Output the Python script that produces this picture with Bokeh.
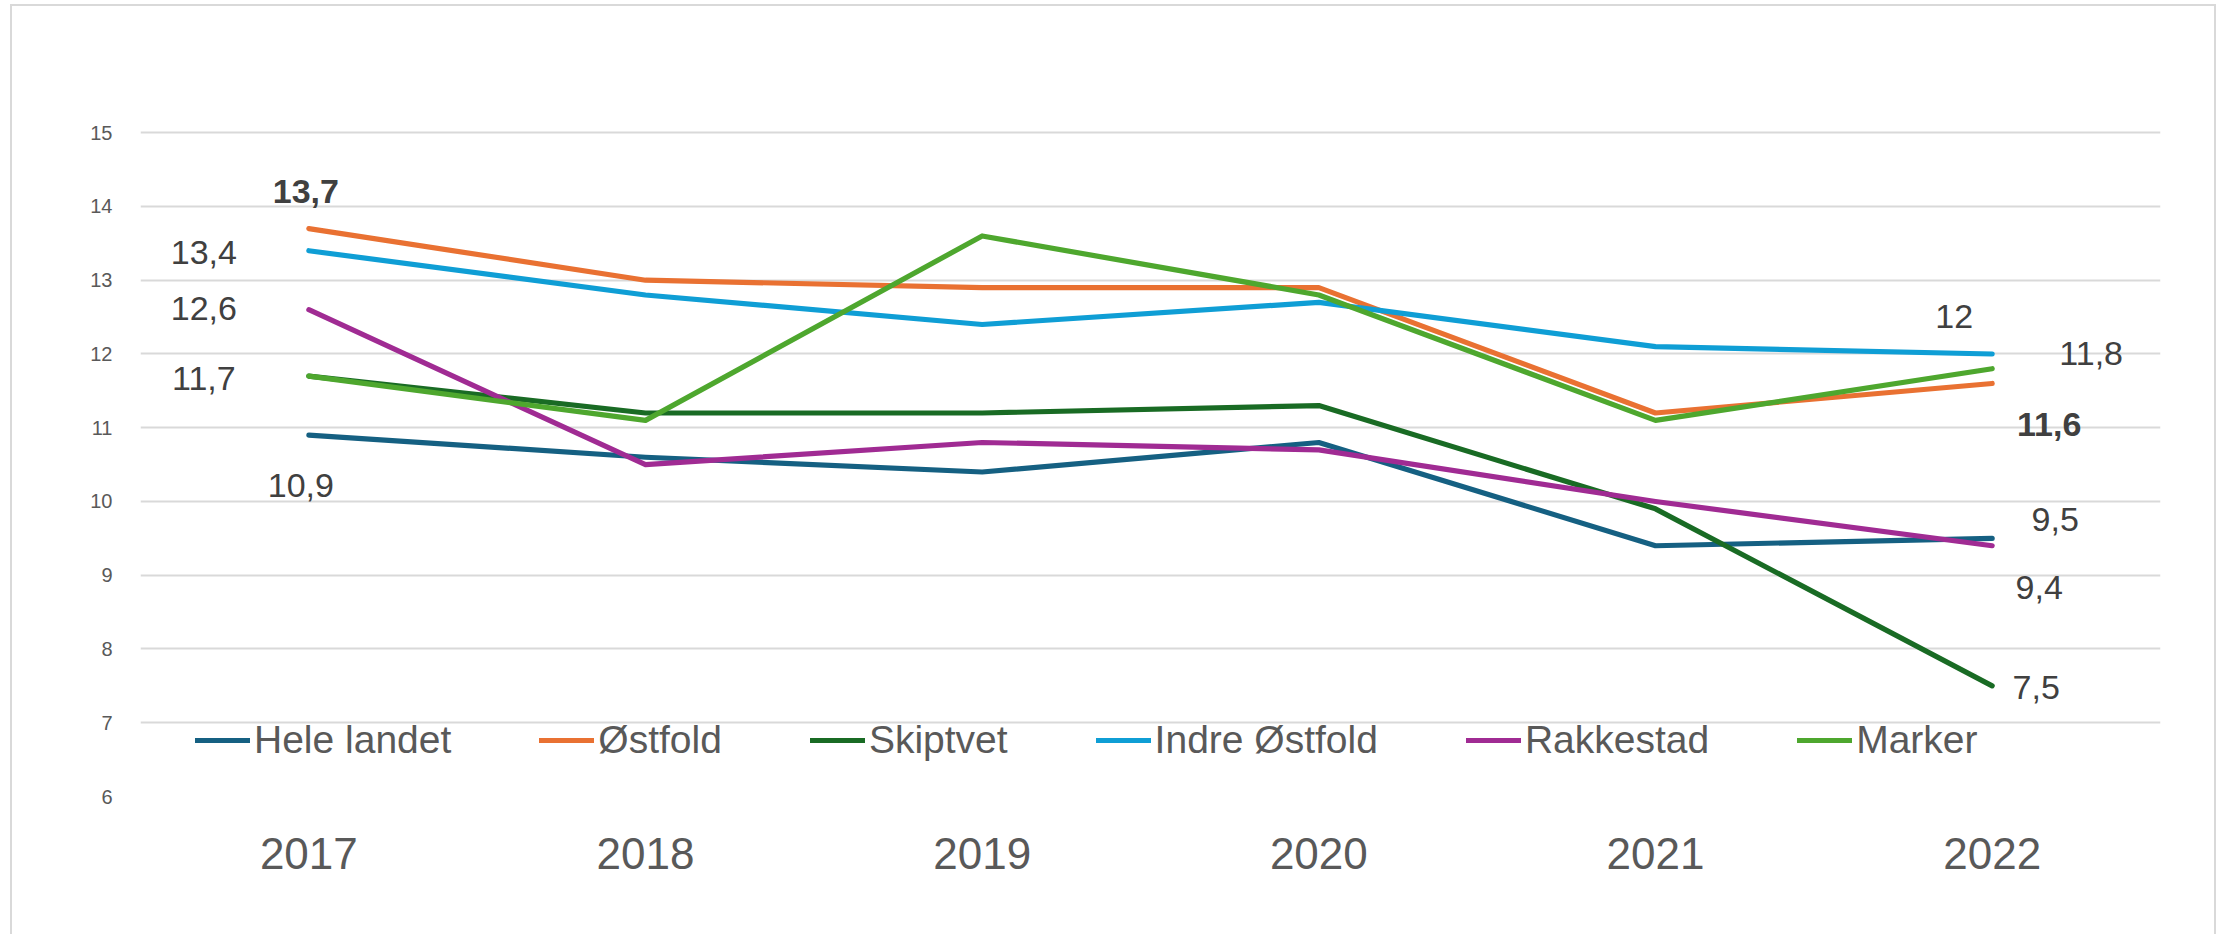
from bokeh.plotting import figure
from bokeh.models import Range1d, FactorRange, FixedTicker, Legend, LegendItem
from bokeh.core.properties import value
from bokeh.embed import file_html
from bokeh.resources import INLINE

# ---- data ----
years = ["2017", "2018", "2019", "2020", "2021", "2022"]
hele_landet = [10.9, 10.6, 10.4, 10.8, 9.4, 9.5]
ostfold = [13.7, 13.0, 12.9, 12.9, 11.2, 11.6]
skiptvet = [11.7, 11.2, 11.2, 11.3, 9.9, 7.5]
indre_ostfold = [13.4, 12.8, 12.4, 12.7, 12.1, 12.0]
rakkestad = [12.6, 10.5, 10.8, 10.7, 10.0, 9.4]
marker = [11.7, 11.1, 13.6, 12.8, 11.1, 11.8]
series_names = ["Hele landet", "Østfold", "Skiptvet", "Indre Østfold", "Rakkestad", "Marker"]
y_ticks = [6, 7, 8, 9, 10, 11, 12, 13, 14, 15]

# ---- style ----
FONT = "Liberation Sans"
colors = ["#156082", "#E97132", "#196B24", "#0F9ED5", "#A02B93", "#4EA72E"]
all_series = [hele_landet, ostfold, skiptvet, indre_ostfold, rakkestad, marker]

# data labels: (series index, point index, bold, x_offset px, y_offset px)
label_specs = [
    (0, 0, False, -8, 50),
    (0, 5, False, 63, -19),
    (1, 0, True, -3, -37),
    (1, 5, True, 57, 41),
    (2, 5, False, 44, 2),
    (3, 0, False, -105, 2),
    (3, 5, False, -38, -37),
    (4, 0, False, -105, -1),
    (4, 5, False, 47, 42),
    (5, 0, False, -105, 2),
    (5, 5, False, 99, -15),
]


def fmt(v):
    return f"{v:g}".replace(".", ",")


p = figure(
    x_range=FactorRange(*years),
    y_range=Range1d(6, 15.03),
    frame_width=2020,
    frame_height=666,
    min_border_left=128,
    min_border_right=54,
    min_border_top=124,
    min_border_bottom=142,
    output_backend="svg",
    toolbar_location=None,
)
p.styles = {"border": "2px solid #d9d9d9", "margin-left": "10px", "margin-top": "4px"}
p.outline_line_color = None
p.background_fill_color = "white"
p.border_fill_color = "white"

p.xgrid.grid_line_color = None
p.ygrid.grid_line_color = "#d9d9d9"
p.ygrid.grid_line_width = 2
p.yaxis.ticker = FixedTicker(ticks=y_ticks)

for ax in (p.xaxis, p.yaxis):
    ax.axis_line_color = None
    ax.major_tick_line_color = None
    ax.minor_tick_line_color = None
    ax.major_label_text_font = FONT
    ax.major_label_text_color = "#595959"

p.yaxis.major_label_text_font_size = "20px"
p.yaxis.major_label_standoff = 22
p.xaxis.major_label_text_font_size = "44px"
p.xaxis.major_label_standoff = 35

renderers = []
for name, vals, col in zip(series_names, all_series, colors):
    r = p.line(years, vals, line_color=col, line_width=5.2,
               line_cap="round", line_join="round")
    renderers.append(r)

for si, pi, bold, dx, dy in label_specs:
    v = all_series[si][pi]
    p.text(x=[years[pi]], y=[v], text=[fmt(v)], x_offset=dx, y_offset=dy,
           text_align="center", text_baseline="middle",
           text_font=value(FONT), text_font_size="34px",
           text_font_style="bold" if bold else "normal",
           text_color="#404040")

legend = Legend(
    items=[LegendItem(label=n, renderers=[r]) for n, r in zip(series_names, renderers)],
    orientation="horizontal",
    location=(55, 34),
    spacing=88,
    glyph_width=55,
    glyph_height=20,
    label_standoff=4,
    padding=0,
    margin=0,
    border_line_color=None,
    background_fill_alpha=0,
    label_text_font=FONT,
    label_text_font_size="39px",
    label_text_color="#595959",
)
p.add_layout(legend)

open("out.html", "w").write(file_html(p, INLINE))
